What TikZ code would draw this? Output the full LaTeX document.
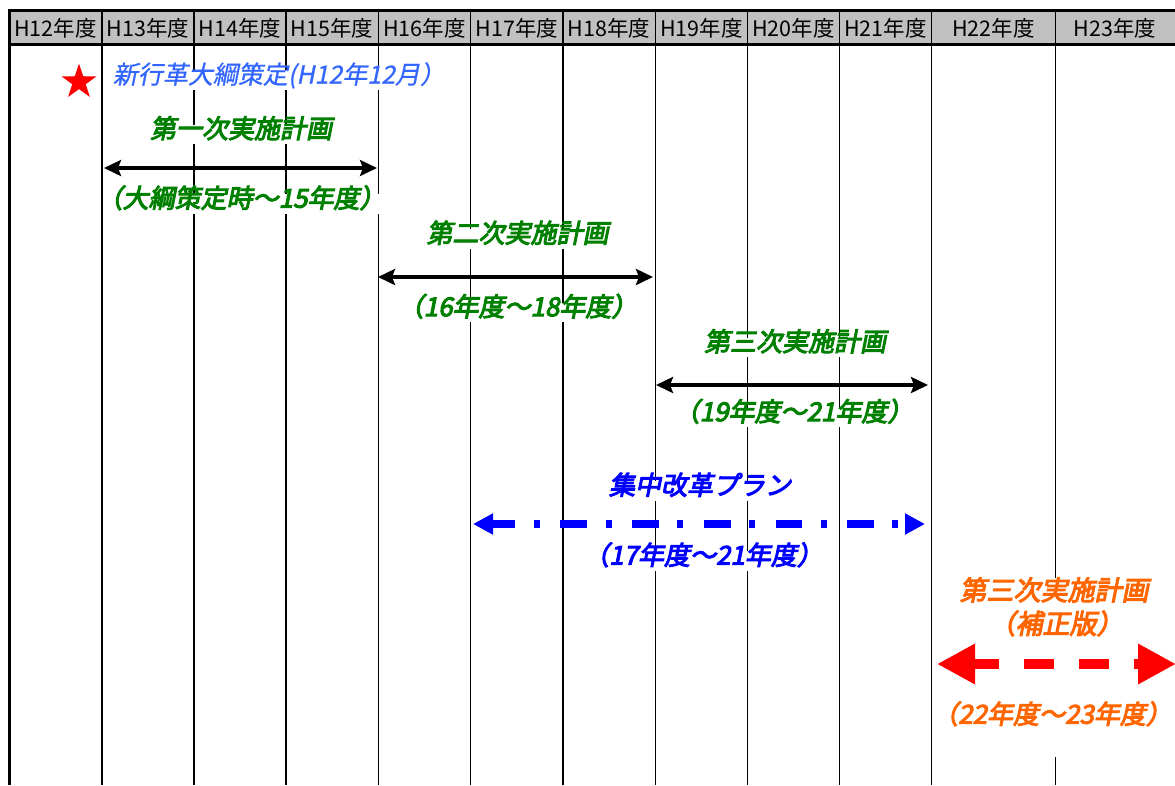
\documentclass[tikz,border=0pt]{standalone}
\usepackage{fontspec}
\setmainfont{Noto Sans CJK JP}
\newfontfamily\jp{Noto Sans CJK JP}
\newfontfamily\jpsl[FakeSlant=0.2,FakeBold=0.8]{Noto Sans CJK JP}
\newfontfamily\jpbsl[FakeSlant=0.2,FakeBold=4]{Noto Sans CJK JP}
\usetikzlibrary{arrows.meta,shapes.geometric}
\definecolor{hdrgray}{RGB}{192,192,192}
\definecolor{lgreen}{RGB}{0,128,0}
\definecolor{lorange}{RGB}{255,102,0}
\definecolor{lblue}{RGB}{0,0,255}
\definecolor{starblue}{RGB}{51,102,255}
\tikzset{
  vline/.style={line width=1.2pt,black},
  border/.style={line width=3pt,black},
  hdr/.style={font=\jp\fontsize{21.5}{21.5}\selectfont,inner sep=0pt,anchor=center},
  lbl/.style={fill=white,inner xsep=4pt,inner ysep=5pt,text height=0.85em,text depth=0.12em,
    font=\jpbsl\fontsize{26}{26}\selectfont},
  dlbl/.style={lbl,inner xsep=-6pt},
  glbl/.style={lbl,text=lgreen},
  gdlbl/.style={dlbl,text=lgreen},
  blbl/.style={lbl,text=lblue},
  bdlbl/.style={dlbl,text=lblue},
  olbl/.style={lbl,text=lorange,fill=none,font=\jpbsl\fontsize{27}{27}\selectfont},
  span/.style={line width=4pt,black,{Stealth[length=17pt,width=16pt,inset=3pt]}-{Stealth[length=17pt,width=16pt,inset=3pt]}},
  bluespan/.style={line width=8pt,lblue,dash pattern=on 26.7pt off 18.4pt on 6pt off 20.6pt,dash phase=3pt,
    {Triangle[length=20pt,width=20pt]}-{Triangle[length=20pt,width=20pt]}},
  redspan/.style={line width=10pt,red,dash pattern=on 30.7pt off 24.3pt,dash phase=4pt,
    {Triangle[length=38pt,width=38pt]}-{Triangle[length=38pt,width=38pt]}}
}
\begin{document}
\begin{tikzpicture}[x=1pt,y=-1pt]
\useasboundingbox (0,0) rectangle (1175,785);
% header background
\fill[hdrgray] (9,11) rectangle (1175,44);
% column lines
\foreach \x in {102,194,286,378.5,470.5,563,655.5,747.5,839.5,931.5,1055.5}
  \draw[vline] (\x,11) -- (\x,785);
% borders
\draw[border] (8,10.5) -- (1175,10.5);
\draw[border] (8,44.5) -- (1175,44.5);
\draw[border] (9.5,9) -- (9.5,785);
% header texts
\node[hdr] (h12) at (55.5,28) {H12年度};
\node[hdr] (h13) at (148,28) {H13年度};
\node[hdr] (h14) at (240,28) {H14年度};
\node[hdr] (h15) at (332,28) {H15年度};
\node[hdr] (h16) at (424.5,28) {H16年度};
\node[hdr] (h17) at (517,28) {H17年度};
\node[hdr] (h18) at (609,28) {H18年度};
\node[hdr] (h19) at (701.5,28) {H19年度};
\node[hdr] (h20) at (793.5,28) {H20年度};
\node[hdr] (h21) at (885.5,28) {H21年度};
\node[hdr] (h22) at (993.5,28) {H22年度};
\node[hdr] (h23) at (1115,28) {H23年度};
% star and its label
\node[star,star points=5,star point ratio=2.6,fill=red,minimum size=37pt,inner sep=0pt] (star) at (79,82) {};
\node[lbl,inner xsep=2pt,font=\jpsl\fontsize{25}{25}\selectfont,text=starblue] (taiko) at (279,80) {新行革大綱策定(H12年12月）};
% first plan
\node[glbl] (t1) at (241,134.5) {第一次実施計画};
\coordinate (a1s) at (104,168);
\coordinate (a1e) at (377,168);
\draw[span] (a1s) -- (a1e);
\node[gdlbl] (d1) at (241,204) {（大綱策定時～15年度）};
% second plan
\node[glbl] (t2) at (517.5,239) {第二次実施計画};
\coordinate (a2s) at (378,277);
\coordinate (a2e) at (653,277);
\draw[span] (a2s) -- (a2e);
\node[gdlbl] (d2) at (517.5,312.5) {（16年度～18年度）};
% third plan
\node[glbl] (t3) at (795,347.5) {第三次実施計画};
\coordinate (a3s) at (656,385);
\coordinate (a3e) at (928,385);
\draw[span] (a3s) -- (a3e);
\node[gdlbl] (d3) at (793.5,417.5) {（19年度～21年度）};
% intensive reform plan
\node[blbl] (t4) at (700,491) {集中改革プラン};
\coordinate (a4s) at (473,524);
\coordinate (a4e) at (925,524);
\draw[bluespan] (a4s) -- (a4e);
\node[bdlbl] (d4) at (703,561) {（17年度～21年度）};
% revised third plan
\fill[white] (936,578) rectangle (1175,757);
\node[olbl] (t5) at (1054,596.5) {第三次実施計画};
\node[olbl,inner xsep=-8pt] (t5b) at (1056,630) {（補正版）};
\coordinate (a5s) at (937,664);
\coordinate (a5e) at (1176,664);
\draw[redspan] (a5s) -- (a5e);
\node[olbl,inner xsep=-9pt,font=\jpbsl\fontsize{26}{26}\selectfont] (d5) at (1052,720) {（22年度～23年度）};
\end{tikzpicture}
\end{document}
